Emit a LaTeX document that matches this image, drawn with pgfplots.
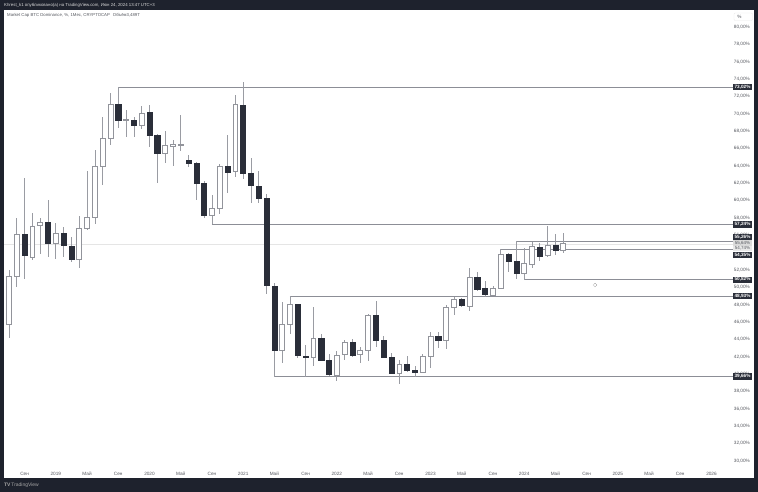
\documentclass[border=0pt]{standalone}
\usepackage{pgfplots}
\usepgfplotslibrary{statistics}
\pgfplotsset{compat=1.18}
\usepackage{fontspec}
\setmainfont{Liberation Sans}
\definecolor{frame}{HTML}{1E222D}
\definecolor{candle}{HTML}{2A2E39}
\definecolor{outl}{HTML}{92949B}
\definecolor{wick}{HTML}{9A9CA3}
\definecolor{lvl}{HTML}{8C8E96}
\definecolor{tick}{HTML}{55585F}
% #1 index, #2 body top, #3 body bottom, #4 high, #5 low
\newcommand\U[5]{\addplot[forget plot,boxplot prepared={draw direction=y,draw position=#1,lower whisker=#5,lower quartile=#3,median=#3,upper quartile=#2,upper whisker=#4,whisker extend=0,box extend=0.62,
  every box/.style={draw=outl,fill=white,line width=0.7bp},every median/.style={draw=outl,line width=0.7bp},every whisker/.style={draw=wick,line width=0.7bp}}] coordinates {};}
\newcommand\D[5]{\addplot[forget plot,boxplot prepared={draw direction=y,draw position=#1,lower whisker=#5,lower quartile=#3,median=#3,upper quartile=#2,upper whisker=#4,whisker extend=0,box extend=0.66,
  every box/.style={draw=candle,fill=candle,line width=0.5bp},every median/.style={draw=candle,line width=0.5bp},every whisker/.style={draw=wick,line width=0.7bp}}] coordinates {};}
\newcommand\lev[2]{\addplot[forget plot,lvl,line width=0.8bp] coordinates {(#1,#2) (93.0,#2)};}
\begin{document}
\begin{tikzpicture}[x=1bp,y=1bp]
\fill[frame] (0,0) rectangle (758,492);
\begin{axis}[name=ax,at={(4bp,14bp)},anchor=south west,scale only axis,width=750bp,height=468bp,
  xmin=-0.6406,xmax=95.45,ymin=27.984,ymax=81.901,
  axis background/.style={fill=white},
  axis line style={draw=none},
  major tick length=0pt,
  ytick={30,32,...,52,56,58,...,80},
  yticklabel pos=right,
  /pgf/number format/.cd,fixed,fixed zerofill,precision=2,use comma,assume math mode=true,
  /pgfplots/.cd,
  yticklabel={\pgfmathprintnumber{\tick}\%},
  yticklabel style={font=\fontsize{4.7}{5}\selectfont,text=tick,anchor=east,inner sep=0pt,xshift=-4bp,yshift=-0.5bp},
  xtick={2,6,...,90},
  xticklabels={Сен,2019,Май,Сен,2020,Май,Сен,2021,Май,Сен,2022,Май,Сен,2023,Май,Сен,2024,Май,Сен,2025,Май,Сен,2026},
  xticklabel style={font=\fontsize{4.7}{5}\selectfont,text=tick,anchor=base,inner sep=0pt,yshift=2.8bp},
]
\addplot[forget plot,black!10,line width=0.4bp] coordinates {(-0.64,54.97) (93.0,54.97)};
\lev{14}{73.02}\lev{26}{57.22}\lev{65}{55.26}\lev{63}{54.35}\lev{66}{50.82}\lev{36}{48.93}\lev{34}{39.66}
\U{0}{51.25}{45.69}{51.95}{44.11}
\U{1}{56.06}{51.25}{57.90}{50.02}
\D{2}{56.06}{53.59}{62.51}{50.87}
\U{3}{57.01}{53.36}{58.48}{53.10}
\U{4}{57.44}{57.09}{57.97}{53.75}
\D{5}{57.47}{54.97}{60.01}{53.48}
\U{6}{56.17}{54.97}{57.32}{53.25}
\D{7}{56.21}{54.74}{56.93}{53.48}
\D{8}{54.71}{53.18}{55.71}{52.83}
\U{9}{56.75}{53.18}{58.16}{52.14}
\U{10}{57.97}{56.70}{63.35}{56.55}
\U{11}{63.84}{57.97}{65.77}{57.21}
\U{12}{67.12}{63.84}{69.54}{61.74}
\U{13}{71.03}{67.12}{72.30}{66.34}
\D{14}{71.03}{69.19}{73.02}{68.34}
\U{15}{69.32}{69.22}{70.38}{67.23}
\D{16}{69.19}{68.61}{69.60}{67.30}
\U{17}{70.00}{68.65}{70.87}{68.15}
\D{18}{70.07}{67.46}{70.95}{66.08}
\D{19}{67.42}{65.42}{67.58}{62.00}
\U{20}{66.31}{65.42}{67.96}{64.24}
\U{21}{66.43}{66.23}{66.92}{63.96}
\U{22}{66.43}{66.31}{69.80}{65.69}
\D{23}{64.62}{64.27}{65.16}{63.78}
\D{24}{64.19}{61.89}{64.39}{60.01}
\D{25}{61.93}{58.31}{62.16}{57.93}
\U{26}{59.09}{58.28}{60.58}{57.22}
\U{27}{63.93}{59.09}{64.12}{58.40}
\D{28}{63.93}{63.23}{67.50}{60.85}
\U{29}{70.99}{63.27}{72.11}{62.69}
\D{30}{70.95}{63.08}{73.60}{62.46}
\D{31}{63.04}{61.70}{64.81}{59.70}
\D{32}{61.62}{60.16}{63.35}{59.70}
\D{33}{60.16}{50.18}{60.70}{49.18}
\D{34}{50.10}{42.73}{50.41}{39.66}
\U{35}{45.69}{42.73}{48.22}{41.19}
\U{36}{47.99}{45.72}{48.93}{44.57}
\D{37}{47.99}{42.15}{48.03}{41.77}
\D{38}{42.04}{41.92}{43.30}{39.66}
\U{39}{44.03}{41.89}{47.65}{40.92}
\D{40}{44.03}{41.54}{44.57}{41.46}
\D{41}{41.57}{39.88}{42.23}{39.73}
\U{42}{42.12}{39.81}{42.65}{39.15}
\U{43}{43.57}{42.23}{43.88}{41.57}
\D{44}{43.57}{42.15}{44.03}{41.95}
\U{45}{42.69}{42.19}{43.11}{41.26}
\U{46}{46.72}{42.73}{46.84}{41.46}
\D{47}{46.68}{43.88}{48.41}{43.11}
\D{48}{43.88}{41.95}{44.34}{41.89}
\D{49}{41.95}{40.08}{42.42}{39.96}
\U{50}{41.08}{40.04}{41.57}{38.81}
\D{51}{41.08}{40.39}{42.04}{40.23}
\D{52}{40.42}{40.11}{40.92}{39.62}
\U{53}{42.00}{40.11}{42.27}{40.11}
\U{54}{44.34}{42.00}{44.77}{40.69}
\D{55}{44.34}{43.91}{44.80}{42.96}
\U{56}{47.65}{43.88}{47.91}{42.81}
\U{57}{48.60}{47.65}{48.80}{46.76}
\D{58}{48.60}{47.83}{48.75}{47.80}
\U{59}{51.10}{47.76}{52.14}{47.25}
\D{60}{51.10}{49.75}{51.68}{49.49}
\D{61}{49.79}{49.10}{50.71}{48.80}
\U{62}{49.79}{49.06}{50.10}{48.95}
\U{63}{53.75}{49.79}{54.35}{49.79}
\D{64}{53.79}{52.98}{53.94}{51.68}
\D{65}{52.98}{51.56}{55.26}{50.91}
\U{66}{52.72}{51.56}{54.51}{50.82}
\U{67}{54.63}{52.60}{55.13}{52.21}
\D{68}{54.56}{53.56}{55.02}{52.98}
\U{69}{54.79}{53.59}{57.01}{53.48}
\D{70}{54.79}{54.21}{56.09}{53.71}
\U{71}{54.97}{54.21}{56.24}{53.94}
\end{axis}
\begin{scope}[shift={(0,492)},y=-1bp,x=1bp,every node/.style={inner sep=0pt}]
\node[anchor=west,text=black!15,font=\fontsize{4.35}{5}\selectfont] at (4,5.3) {Khrest\_k1 опубликовано(а) на TradingView.com, Июн 24, 2024 13:47 UTC+3};
\node[anchor=west,text=tick,font=\fontsize{4.3}{5}\selectfont] at (7,15.7) {Market Cap BTC Dominance, \%, 1Мес, CRYPTOCAP\hspace{3bp}Объём3,489T};
\node[anchor=west,text=black!35,font=\fontsize{5}{5}\selectfont] at (4,485) {\textbf{TV}\,TradingView};
\draw[black!8,rounded corners=1bp,line width=0.4bp] (734,13) rectangle (752.5,20.5);
\node[text=tick,font=\fontsize{4.7}{5}\selectfont] at (739.5,16.7) {\%};
\draw[black!40,line width=0.45bp,dash pattern=on 1bp off 0.6bp] (595,285) circle (1.9bp);
\foreach \yy/\tt in {87.3/{73,02\%},224.5/{57,24\%},237/{55,26\%},255.3/{54,35\%},279.7/{50,82\%},296.3/{48,93\%},376.6/{39,66\%}}{
  \node[fill=candle,text=white,minimum width=19bp,minimum height=6.3bp,font=\fontsize{4.7}{5}\selectfont\bfseries] at (742.5,\yy) {\tt};
}
\foreach \yy/\tt/\cc in {243.2/{55,64\%}/black!14,248.6/{54,74\%}/black!9}{
  \node[fill=\cc,text=tick,minimum width=19bp,minimum height=5.4bp,font=\fontsize{4.5}{5}\selectfont] at (742.5,\yy) {\tt};
}
\end{scope}
\end{tikzpicture}
\end{document}
